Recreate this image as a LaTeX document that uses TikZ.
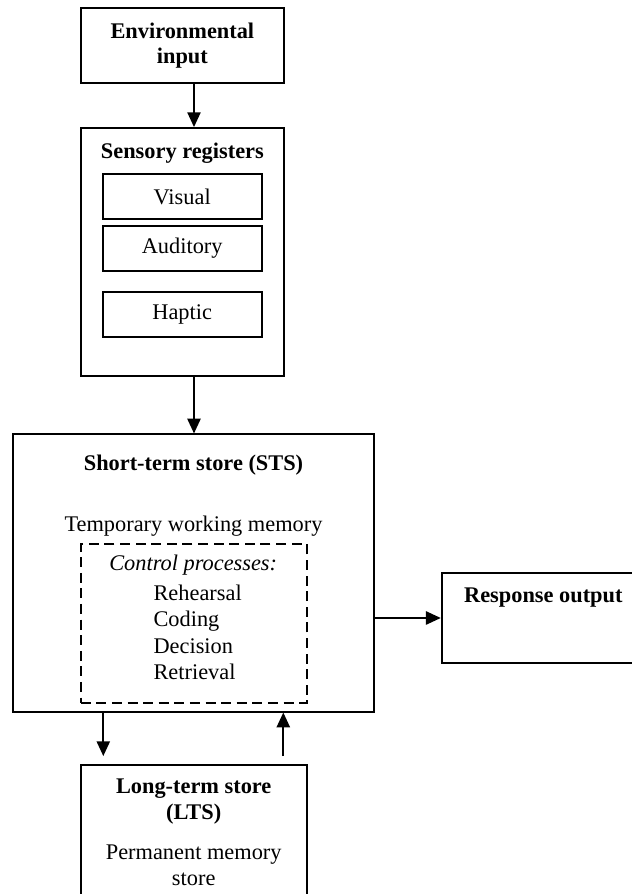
\documentclass[tikz,border=0pt]{standalone}
\usepackage{fontspec}
\setmainfont{Liberation Serif}
\usetikzlibrary{arrows.meta}

\begin{document}
\begin{tikzpicture}
	\tikzstyle{every node}=[font=\fontsize{15.9}{18.7}\selectfont, inner sep=0pt]
	\tikzstyle{head}=[font=\fontsize{15.9}{18.7}\selectfont\bfseries]
	\tikzstyle{store}=[draw, line width=1.3pt, minimum width=5.08cm]
	\tikzstyle{register}=[draw, line width=1.3pt, minimum width=3.975cm, minimum height=1.13cm]
	\tikzstyle{flow}=[line width=1.3pt, -{Triangle[length=0.37cm,width=0.33cm]}]
	
	\useasboundingbox (0,0) rectangle (15.8,22.35);
	\clip (0,0) rectangle (15.8,22.35);
	
	% columns of the arrows
	\coordinate (mid) at (4.85,0);
	\coordinate (down) at (2.5825,0);
	\coordinate (up) at (7.0825,0);
	
	\node [store, minimum height=1.875cm, align=center, font=\fontsize{15.9}{17.7}\selectfont\bfseries] (env) at (4.559,21.2125) {Environmental\\input};
	
	\node [store, minimum height=6.2cm] (sens) at (4.559,16.05) {};
	\node [head] (senstitle) at (4.559,18.525) {Sensory registers};
	\node [register] (visual) at (4.555,17.4375) {Visual};
	\node [register] (auditory) at (4.555,16.1425) {Auditory};
	\node [register] (haptic) at (4.555,14.48) {Haptic};
	
	\node [draw, line width=1.3pt, minimum width=9.025cm, minimum height=6.93cm] (sts) at (4.8375,8.025) {};
	\node [head] (ststitle) at (4.8375,10.725) {Short-term store (STS)};
	\node (working) at (4.8375,9.2) {Temporary working memory};
	
	\node [draw, line width=1.2pt, dash pattern=on 0.25cm off 0.14cm, minimum width=5.65cm, minimum height=3.97cm] (ctrl) at (4.8425,6.765) {};
	\node [font=\fontsize{15.9}{18.7}\selectfont\itshape] (ctrltitle) at (4.83,8.225) {Control processes:};
	\node [anchor=west, align=left] (ctrllist) at (3.8325,6.5375) {Rehearsal\\Coding\\Decision\\Retrieval};
	
	% runs off the right edge
	\node [store, minimum width=5.6cm, minimum height=2.265cm] (resp) at (13.8425,6.9) {};
	\node [head] (resptitle) at (13.584,7.4) {Response output};
	
	% runs off the bottom edge
	\node [draw, line width=1.3pt, minimum width=5.65cm, minimum height=4.125cm] (lts) at (4.8425,1.1625) {};
	\node [head, align=center] (ltstitle) at (4.8425,2.3125) {Long-term store\\(LTS)};
	\node [align=center] (ltstext) at (4.8425,0.72) {Permanent memory\\store};
	
	\draw [flow] (env.south -| mid) -- (sens.north -| mid);
	\draw [flow] (sens.south -| mid) -- (sts.north -| mid);
	\draw [flow] (sts.east |- resp.west) -- (resp.west);
	\draw [flow, shorten >=0.2cm] (sts.south -| down) -- (lts.north -| down);
	\draw [flow, shorten <=0.2cm] (lts.north -| up) -- (sts.south -| up);
	
\end{tikzpicture}
\end{document}
